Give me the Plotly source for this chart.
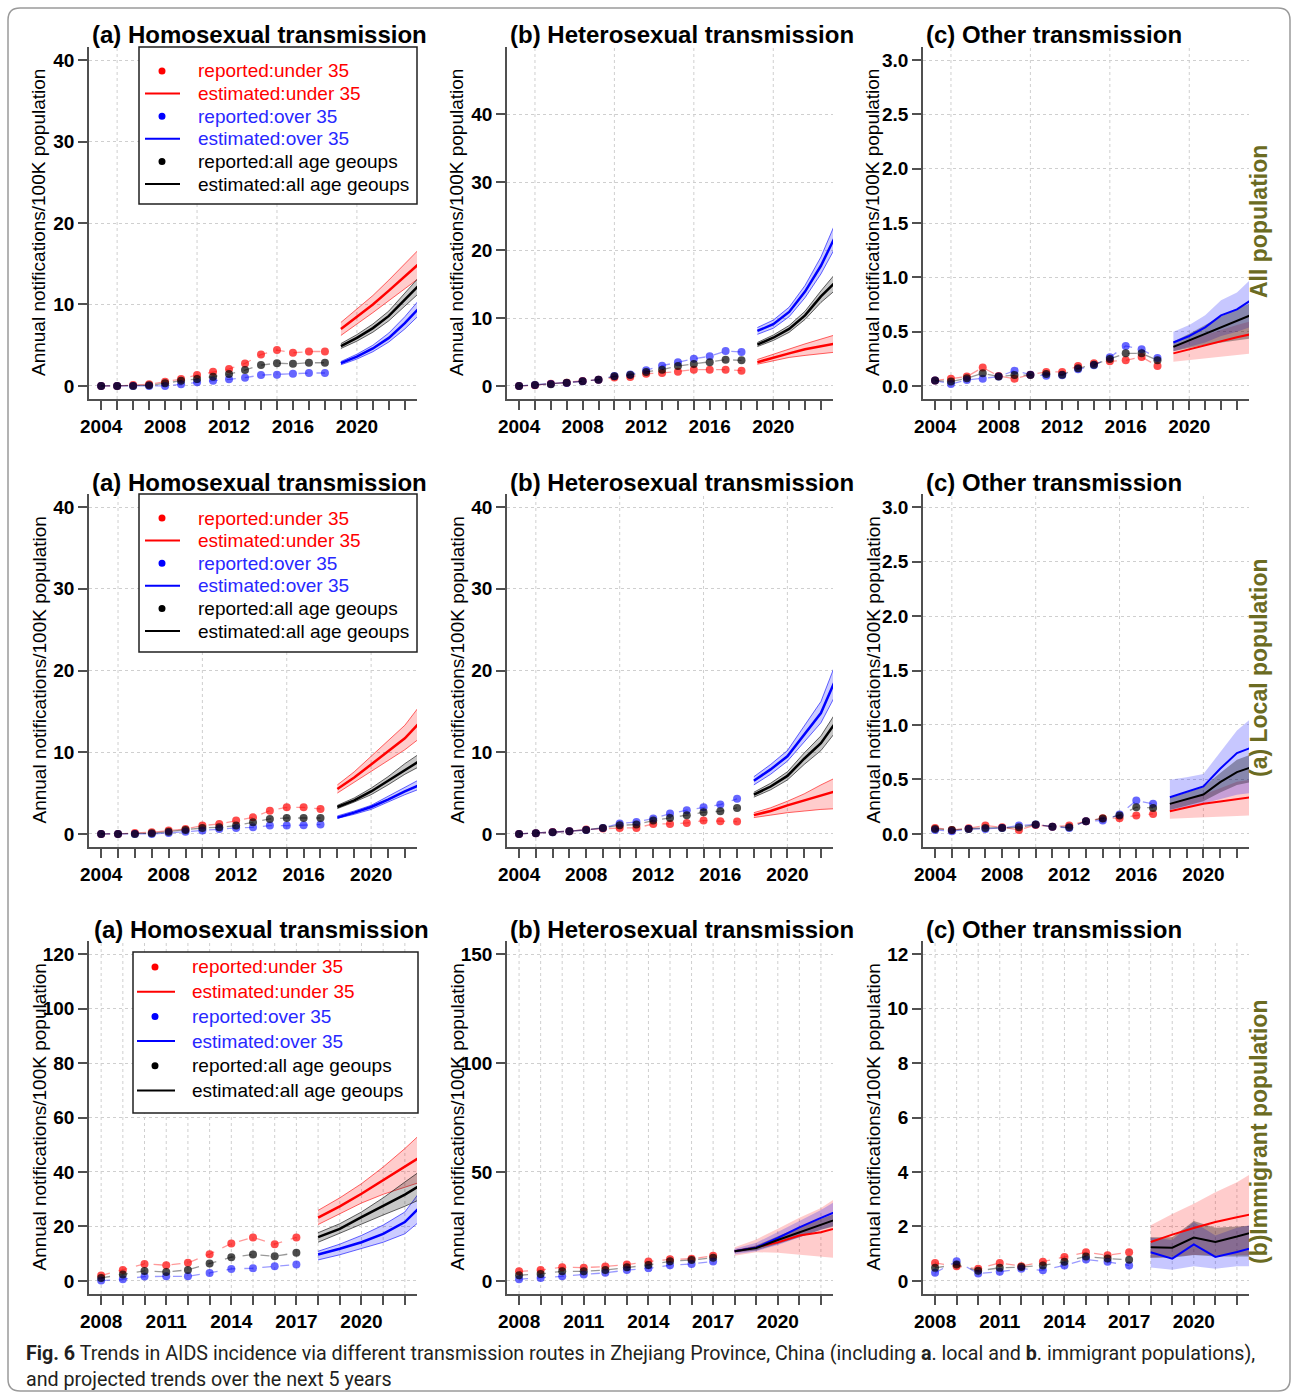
import plotly.graph_objects as go

W, H = 1295, 1398
FONT = "Liberation Sans, Arial, sans-serif"

# ---------------- years ----------------
years_all_rep = list(range(2004, 2019))
years_all_est = list(range(2019, 2025))
years_loc_rep = list(range(2004, 2018))
years_loc_est = list(range(2018, 2024))
years_imm_rep = list(range(2008, 2018))
years_imm_est = list(range(2018, 2024))

# ---------------- All population: homosexual ----------------
all_homo_rep_u35 = [0, 0, 0.12, 0.2, 0.53, 0.85, 1.34, 1.75, 2.07, 2.76, 3.86, 4.4, 4.07, 4.23, 4.23]
all_homo_rep_o35 = [0, 0, 0, 0, 0, 0.2, 0.45, 0.65, 0.81, 1.02, 1.34, 1.38, 1.5, 1.59, 1.59]
all_homo_rep_all = [0, 0, 0, 0.08, 0.33, 0.65, 0.85, 1.14, 1.46, 1.95, 2.56, 2.8, 2.72, 2.85, 2.85]
all_homo_est_u35 = [7.0, 8.5, 10.0, 11.7, 13.4, 15.2]
all_homo_est_u35_lo = [6.2, 7.6, 9.0, 10.4, 11.9, 13.4]
all_homo_est_u35_hi = [7.8, 9.4, 11.1, 13.0, 15.0, 17.0]
all_homo_est_o35 = [2.8, 3.6, 4.6, 5.9, 7.7, 9.8]
all_homo_est_o35_lo = [2.6, 3.3, 4.2, 5.4, 7.0, 8.9]
all_homo_est_o35_hi = [3.0, 3.9, 5.0, 6.5, 8.5, 10.8]
all_homo_est_all = [4.9, 5.9, 7.1, 8.6, 10.6, 12.6]
all_homo_est_all_lo = [4.6, 5.5, 6.6, 8.0, 9.8, 11.6]
all_homo_est_all_hi = [5.2, 6.3, 7.6, 9.2, 11.4, 13.6]

# ---------------- All population: heterosexual ----------------
all_hetero_rep_u35 = [0, 0.1, 0.34, 0.49, 0.74, 0.93, 1.23, 1.32, 1.81, 1.91, 2.1, 2.4, 2.4, 2.4, 2.25]
all_hetero_rep_o35 = [0, 0.15, 0.29, 0.44, 0.69, 0.93, 1.47, 1.67, 2.3, 2.99, 3.48, 4.02, 4.36, 5.15, 5.0]
all_hetero_rep_all = [0, 0.15, 0.25, 0.49, 0.69, 0.93, 1.42, 1.62, 2.06, 2.4, 2.94, 3.24, 3.48, 3.87, 3.77]
all_hetero_est_u35 = [3.5, 4.2, 4.8, 5.4, 5.9, 6.3]
all_hetero_est_u35_lo = [3.2, 3.7, 4.2, 4.5, 4.8, 5.0]
all_hetero_est_u35_hi = [3.9, 4.7, 5.5, 6.2, 6.9, 7.6]
all_hetero_est_o35 = [8.1, 9.1, 10.9, 13.9, 17.7, 22.5]
all_hetero_est_o35_lo = [7.6, 8.5, 10.2, 13.0, 16.5, 20.8]
all_hetero_est_o35_hi = [8.6, 9.7, 11.6, 14.8, 19.0, 24.5]
all_hetero_est_all = [6.1, 7.1, 8.4, 10.4, 13.2, 15.5]
all_hetero_est_all_lo = [5.8, 6.7, 7.9, 9.8, 12.3, 14.3]
all_hetero_est_all_hi = [6.4, 7.5, 8.9, 11.0, 14.0, 16.8]

# ---------------- All population: other ----------------
all_other_rep_u35 = [0.05, 0.067, 0.086, 0.17, 0.092, 0.067, 0.104, 0.129, 0.129, 0.184, 0.21, 0.227, 0.236, 0.267, 0.184]
all_other_rep_o35 = [0.05, 0.018, 0.055, 0.067, 0.086, 0.141, 0.104, 0.095, 0.098, 0.153, 0.19, 0.264, 0.368, 0.337, 0.258]
all_other_rep_all = [0.05, 0.04, 0.07, 0.117, 0.086, 0.1, 0.1, 0.11, 0.104, 0.163, 0.196, 0.248, 0.3, 0.3, 0.236]
all_other_est_u35 = [0.30, 0.337, 0.377, 0.408, 0.448, 0.48]
all_other_est_u35_lo = [0.224, 0.237, 0.25, 0.268, 0.285, 0.30]
all_other_est_u35_hi = [0.377, 0.425, 0.47, 0.515, 0.56, 0.60]
all_other_est_o35 = [0.40, 0.46, 0.54, 0.65, 0.705, 0.80]
all_other_est_o35_lo = [0.32, 0.36, 0.40, 0.46, 0.50, 0.55]
all_other_est_o35_hi = [0.50, 0.56, 0.65, 0.79, 0.86, 1.0]
all_other_est_all = [0.36, 0.42, 0.485, 0.546, 0.607, 0.66]
all_other_est_all_lo = [0.32, 0.35, 0.38, 0.40, 0.42, 0.44]
all_other_est_all_hi = [0.41, 0.48, 0.56, 0.64, 0.71, 0.77]

# ---------------- Local population: homosexual ----------------
loc_homo_rep_u35 = [0, 0, 0.12, 0.2, 0.41, 0.61, 1.02, 1.22, 1.63, 2.03, 2.85, 3.25, 3.25, 3.05]
loc_homo_rep_o35 = [0, 0, 0, 0, 0.12, 0.28, 0.41, 0.61, 0.73, 0.81, 1.02, 1.02, 1.06, 1.14]
loc_homo_rep_all = [0, 0, 0, 0.08, 0.28, 0.49, 0.73, 0.81, 1.02, 1.42, 1.83, 1.95, 1.95, 1.95]
loc_homo_est_u35 = [5.5, 6.9, 8.5, 10.1, 11.7, 13.9]
loc_homo_est_u35_lo = [5.0, 6.3, 7.6, 9.0, 10.3, 11.9]
loc_homo_est_u35_hi = [6.0, 7.6, 9.5, 11.4, 13.3, 16.0]
loc_homo_est_o35 = [2.0, 2.6, 3.3, 4.2, 5.2, 6.1]
loc_homo_est_o35_lo = [1.9, 2.4, 3.0, 3.9, 4.8, 5.6]
loc_homo_est_o35_hi = [2.2, 2.8, 3.5, 4.6, 5.7, 6.8]
loc_homo_est_all = [3.3, 4.1, 5.2, 6.5, 7.9, 9.1]
loc_homo_est_all_lo = [3.1, 3.9, 4.8, 6.0, 7.3, 8.4]
loc_homo_est_all_hi = [3.5, 4.4, 5.6, 7.0, 8.6, 10.0]

# ---------------- Local population: heterosexual ----------------
loc_hetero_rep_u35 = [0, 0.08, 0.24, 0.33, 0.53, 0.65, 0.73, 0.73, 1.22, 1.22, 1.35, 1.63, 1.55, 1.51]
loc_hetero_rep_o35 = [0, 0.08, 0.2, 0.33, 0.49, 0.73, 1.27, 1.47, 1.88, 2.49, 2.9, 3.27, 3.59, 4.29]
loc_hetero_rep_all = [0, 0.08, 0.2, 0.33, 0.49, 0.73, 1.06, 1.14, 1.63, 1.96, 2.29, 2.65, 2.78, 3.18]
loc_hetero_est_u35 = [2.3, 2.8, 3.5, 4.1, 4.7, 5.3]
loc_hetero_est_u35_lo = [2.0, 2.3, 2.6, 2.8, 3.0, 3.1]
loc_hetero_est_u35_hi = [2.6, 3.2, 4.0, 4.9, 6.0, 7.0]
loc_hetero_est_o35 = [6.5, 7.9, 9.5, 12.2, 14.8, 19.5]
loc_hetero_est_o35_lo = [6.0, 7.3, 8.9, 11.3, 13.6, 17.5]
loc_hetero_est_o35_hi = [7.0, 8.5, 10.2, 13.2, 16.2, 21.5]
loc_hetero_est_all = [4.8, 5.8, 7.1, 9.2, 11.1, 14.0]
loc_hetero_est_all_lo = [4.5, 5.4, 6.6, 8.5, 10.2, 12.8]
loc_hetero_est_all_hi = [5.1, 6.2, 7.6, 9.9, 12.0, 15.2]

# ---------------- Local population: other ----------------
loc_other_rep_u35 = [0.055, 0.037, 0.052, 0.077, 0.061, 0.037, 0.083, 0.067, 0.077, 0.117, 0.145, 0.145, 0.169, 0.184]
loc_other_rep_o35 = [0.037, 0.025, 0.046, 0.046, 0.055, 0.077, 0.086, 0.067, 0.055, 0.117, 0.123, 0.178, 0.307, 0.276]
loc_other_rep_all = [0.046, 0.037, 0.046, 0.055, 0.055, 0.061, 0.086, 0.067, 0.061, 0.117, 0.141, 0.169, 0.245, 0.239]
loc_other_est_u35 = [0.209, 0.245, 0.276, 0.297, 0.322, 0.34]
loc_other_est_u35_lo = [0.14, 0.145, 0.15, 0.16, 0.165, 0.17]
loc_other_est_u35_hi = [0.28, 0.32, 0.36, 0.42, 0.48, 0.50]
loc_other_est_o35 = [0.337, 0.383, 0.436, 0.598, 0.742, 0.80]
loc_other_est_o35_lo = [0.22, 0.25, 0.28, 0.32, 0.36, 0.38]
loc_other_est_o35_hi = [0.497, 0.52, 0.55, 0.75, 0.95, 1.08]
loc_other_est_all = [0.276, 0.322, 0.362, 0.475, 0.567, 0.62]
loc_other_est_all_lo = [0.22, 0.26, 0.30, 0.38, 0.45, 0.48]
loc_other_est_all_hi = [0.33, 0.38, 0.43, 0.56, 0.68, 0.74]

# ---------------- Immigrant population: homosexual ----------------
imm_homo_rep_u35 = [1.96, 4.05, 6.26, 5.77, 6.63, 9.82, 13.74, 15.95, 13.5, 15.95]
imm_homo_rep_o35 = [0.12, 0.61, 1.6, 1.72, 1.72, 2.94, 4.42, 4.66, 5.4, 6.0]
imm_homo_rep_all = [1.1, 2.33, 3.68, 3.31, 4.05, 6.38, 8.71, 9.69, 9.08, 10.3]
imm_homo_est_u35 = [23.2, 27.4, 32.0, 36.9, 41.8, 47.0]
imm_homo_est_u35_lo = [20.7, 24.5, 28.6, 31.8, 34.5, 37.0]
imm_homo_est_u35_hi = [25.9, 30.5, 35.7, 41.8, 48.6, 56.0]
imm_homo_est_o35 = [9.7, 11.8, 14.2, 17.3, 21.6, 29.5]
imm_homo_est_o35_lo = [7.7, 9.6, 11.8, 14.2, 17.3, 24.0]
imm_homo_est_o35_hi = [10.9, 13.5, 16.7, 20.5, 25.3, 36.0]
imm_homo_est_all = [16.1, 19.1, 23.4, 27.4, 31.7, 36.5]
imm_homo_est_all_lo = [14.2, 17.5, 21.0, 24.2, 27.4, 31.0]
imm_homo_est_all_hi = [17.7, 21.0, 25.3, 30.5, 36.3, 42.0]

# ---------------- Immigrant population: heterosexual ----------------
imm_hetero_rep_u35 = [4.4, 5.0, 6.3, 6.1, 6.6, 7.5, 8.9, 9.9, 10.2, 11.5]
imm_hetero_rep_o35 = [0.8, 1.4, 2.1, 3.0, 3.7, 5.0, 5.8, 7.2, 7.8, 8.9]
imm_hetero_rep_all = [2.6, 3.2, 4.4, 4.4, 5.0, 6.3, 7.3, 9.0, 9.6, 10.6]
imm_hetero_est_u35 = [13.6, 15.4, 17.7, 20.8, 22.3, 25.0]
imm_hetero_est_u35_lo = [11.6, 13.2, 12.9, 12.2, 11.2, 10.3]
imm_hetero_est_u35_hi = [15.4, 19.0, 24.0, 29.0, 33.5, 40.0]
imm_hetero_est_o35 = [13.6, 15.4, 19.7, 24.6, 28.9, 33.0]
imm_hetero_est_o35_lo = [12.2, 13.6, 16.5, 20.0, 23.5, 26.5]
imm_hetero_est_o35_hi = [14.8, 17.5, 22.5, 27.5, 32.5, 38.5]
imm_hetero_est_all = [13.6, 15.1, 18.8, 22.3, 26.1, 29.3]
imm_hetero_est_all_lo = [13.0, 14.0, 17.0, 20.0, 23.5, 26.0]
imm_hetero_est_all_hi = [14.2, 16.3, 20.5, 24.5, 28.5, 32.0]

# ---------------- Immigrant population: other ----------------
imm_other_rep_u35 = [0.66, 0.54, 0.45, 0.66, 0.54, 0.7, 0.88, 1.05, 0.94, 1.05]
imm_other_rep_o35 = [0.3, 0.72, 0.27, 0.34, 0.45, 0.39, 0.57, 0.79, 0.7, 0.57]
imm_other_rep_all = [0.48, 0.6, 0.37, 0.48, 0.51, 0.57, 0.7, 0.9, 0.82, 0.78]
imm_other_est_u35 = [1.43, 1.7, 1.94, 2.16, 2.34, 2.5]
imm_other_est_u35_lo = [0.85, 0.9, 0.95, 0.95, 0.95, 0.95]
imm_other_est_u35_hi = [2.04, 2.46, 2.83, 3.26, 3.62, 4.1]
imm_other_est_o35 = [1.05, 0.82, 1.34, 0.88, 1.06, 1.28]
imm_other_est_o35_lo = [0.49, 0.41, 0.54, 0.45, 0.54, 0.54]
imm_other_est_o35_hi = [1.59, 1.5, 2.16, 1.67, 1.95, 2.1]
imm_other_est_all = [1.24, 1.22, 1.59, 1.43, 1.63, 1.85]
imm_other_est_all_lo = [0.85, 0.85, 0.95, 0.9, 0.9, 0.9]
imm_other_est_all_hi = [1.6, 1.6, 2.2, 1.95, 2.0, 2.05]

# ---------------- ticks / labels ----------------
xlabels_rows_ab = [2004, 2008, 2012, 2016, 2020]
xlabels_row_c = [2008, 2011, 2014, 2017, 2020]
xgrid_rows_ab = [2005, 2010, 2015, 2020]
yticks_homo = [0, 10, 20, 30, 40]
yticks_other = [0, 0.5, 1.0, 1.5, 2.0, 2.5, 3.0]
yticktext_other = ["0.0", "0.5", "1.0", "1.5", "2.0", "2.5", "3.0"]
yticks_imm_homo = [0, 20, 40, 60, 80, 100, 120]
yticks_imm_hetero = [0, 50, 100, 150]
yticks_imm_other = [0, 2, 4, 6, 8, 10, 12]

panel_titles = ["(a) Homosexual transmission", "(b) Heterosexual transmission", "(c) Other transmission"]
row_labels = ["All population", "(a) Local population", "(b)Immigrant population"]
ytitle = "Annual notifications/100K population"
legend_labels = ["reported:under 35", "estimated:under 35", "reported:over 35",
                 "estimated:over 35", "reported:all age geoups", "estimated:all age geoups"]

# ---------------- layout geometry (pixels) ----------------
cols_px = [(89, 417), (507, 833), (923, 1249)]
rows_px = [(47, 399), (494, 847), (941, 1294)]


def px(x):
    return x / W


def py(y):
    return 1 - y / H


RGB = {"u35": (255, 0, 0), "o35": (0, 0, 255), "all": (0, 0, 0)}
SOLID = {"u35": "#FF0000", "o35": "#0000FF", "all": "#000000"}

panels = [
    dict(r=0, c=0, ry=years_all_rep, ey=years_all_est, xr=(2004, 2023), ymax=40, yt=yticks_homo, ytt=None, style="band",
         rep=dict(u35=all_homo_rep_u35, o35=all_homo_rep_o35, all=all_homo_rep_all),
         est=dict(u35=(all_homo_est_u35, all_homo_est_u35_lo, all_homo_est_u35_hi),
                  o35=(all_homo_est_o35, all_homo_est_o35_lo, all_homo_est_o35_hi),
                  all=(all_homo_est_all, all_homo_est_all_lo, all_homo_est_all_hi))),
    dict(r=0, c=1, ry=years_all_rep, ey=years_all_est, xr=(2004, 2023), ymax=48, yt=yticks_homo, ytt=None, style="band",
         rep=dict(u35=all_hetero_rep_u35, o35=all_hetero_rep_o35, all=all_hetero_rep_all),
         est=dict(u35=(all_hetero_est_u35, all_hetero_est_u35_lo, all_hetero_est_u35_hi),
                  o35=(all_hetero_est_o35, all_hetero_est_o35_lo, all_hetero_est_o35_hi),
                  all=(all_hetero_est_all, all_hetero_est_all_lo, all_hetero_est_all_hi))),
    dict(r=0, c=2, ry=years_all_rep, ey=years_all_est, xr=(2004, 2023), ymax=3, yt=yticks_other, ytt=yticktext_other, style="soft",
         rep=dict(u35=all_other_rep_u35, o35=all_other_rep_o35, all=all_other_rep_all),
         est=dict(u35=(all_other_est_u35, all_other_est_u35_lo, all_other_est_u35_hi),
                  o35=(all_other_est_o35, all_other_est_o35_lo, all_other_est_o35_hi),
                  all=(all_other_est_all, all_other_est_all_lo, all_other_est_all_hi))),
    dict(r=1, c=0, ry=years_loc_rep, ey=years_loc_est, xr=(2004, 2022), ymax=40, yt=yticks_homo, ytt=None, style="band",
         rep=dict(u35=loc_homo_rep_u35, o35=loc_homo_rep_o35, all=loc_homo_rep_all),
         est=dict(u35=(loc_homo_est_u35, loc_homo_est_u35_lo, loc_homo_est_u35_hi),
                  o35=(loc_homo_est_o35, loc_homo_est_o35_lo, loc_homo_est_o35_hi),
                  all=(loc_homo_est_all, loc_homo_est_all_lo, loc_homo_est_all_hi))),
    dict(r=1, c=1, ry=years_loc_rep, ey=years_loc_est, xr=(2004, 2022), ymax=40, yt=yticks_homo, ytt=None, style="band",
         rep=dict(u35=loc_hetero_rep_u35, o35=loc_hetero_rep_o35, all=loc_hetero_rep_all),
         est=dict(u35=(loc_hetero_est_u35, loc_hetero_est_u35_lo, loc_hetero_est_u35_hi),
                  o35=(loc_hetero_est_o35, loc_hetero_est_o35_lo, loc_hetero_est_o35_hi),
                  all=(loc_hetero_est_all, loc_hetero_est_all_lo, loc_hetero_est_all_hi))),
    dict(r=1, c=2, ry=years_loc_rep, ey=years_loc_est, xr=(2004, 2022), ymax=3, yt=yticks_other, ytt=yticktext_other, style="soft",
         rep=dict(u35=loc_other_rep_u35, o35=loc_other_rep_o35, all=loc_other_rep_all),
         est=dict(u35=(loc_other_est_u35, loc_other_est_u35_lo, loc_other_est_u35_hi),
                  o35=(loc_other_est_o35, loc_other_est_o35_lo, loc_other_est_o35_hi),
                  all=(loc_other_est_all, loc_other_est_all_lo, loc_other_est_all_hi))),
    dict(r=2, c=0, ry=years_imm_rep, ey=years_imm_est, xr=(2008, 2022), ymax=120, yt=yticks_imm_homo, ytt=None, style="band",
         rep=dict(u35=imm_homo_rep_u35, o35=imm_homo_rep_o35, all=imm_homo_rep_all),
         est=dict(u35=(imm_homo_est_u35, imm_homo_est_u35_lo, imm_homo_est_u35_hi),
                  o35=(imm_homo_est_o35, imm_homo_est_o35_lo, imm_homo_est_o35_hi),
                  all=(imm_homo_est_all, imm_homo_est_all_lo, imm_homo_est_all_hi))),
    dict(r=2, c=1, ry=years_imm_rep, ey=years_imm_est, xr=(2008, 2022), ymax=150, yt=yticks_imm_hetero, ytt=None, style="soft",
         rep=dict(u35=imm_hetero_rep_u35, o35=imm_hetero_rep_o35, all=imm_hetero_rep_all),
         est=dict(u35=(imm_hetero_est_u35, imm_hetero_est_u35_lo, imm_hetero_est_u35_hi),
                  o35=(imm_hetero_est_o35, imm_hetero_est_o35_lo, imm_hetero_est_o35_hi),
                  all=(imm_hetero_est_all, imm_hetero_est_all_lo, imm_hetero_est_all_hi))),
    dict(r=2, c=2, ry=years_imm_rep, ey=years_imm_est, xr=(2008, 2022), ymax=12, yt=yticks_imm_other, ytt=None, style="soft",
         rep=dict(u35=imm_other_rep_u35, o35=imm_other_rep_o35, all=imm_other_rep_all),
         est=dict(u35=(imm_other_est_u35, imm_other_est_u35_lo, imm_other_est_u35_hi),
                  o35=(imm_other_est_o35, imm_other_est_o35_lo, imm_other_est_o35_hi),
                  all=(imm_other_est_all, imm_other_est_all_lo, imm_other_est_all_hi))),
]

fig = go.Figure()
shapes = []
annotations = []
AXC = "#505050"
GRIDC = "#cfcfcf"

for i, p in enumerate(panels):
    n = "" if i == 0 else str(i + 1)
    xa, ya = "x" + n, "y" + n
    x0p, x1p = cols_px[p["c"]]
    y0p, y1p = rows_px[p["r"]]
    xlo, xhi = p["xr"]
    pad = 0.04 * (xhi - xlo)
    years_all = list(range(xlo, xhi + 1))
    labset = xlabels_row_c if p["r"] == 2 else xlabels_rows_ab
    ticktext = [str(y) if y in labset else "" for y in years_all]
    ymax = p["ymax"]

    fig.layout["xaxis" + n] = dict(
        domain=[px(x0p), px(x1p)], anchor=ya, range=[xlo - pad, xhi + pad], automargin=False,
        tickmode="array", tickvals=years_all, ticktext=ticktext,
        ticks="outside", ticklen=9, tickwidth=1.5, tickcolor=AXC,
        showline=True, linecolor=AXC, linewidth=1.5, showgrid=False, zeroline=False,
        tickfont=dict(family=FONT, size=19, color="black", weight="bold"), fixedrange=True)
    fig.layout["yaxis" + n] = dict(
        domain=[py(y1p), py(y0p)], anchor=xa, range=[-0.04 * ymax, 1.04 * ymax], automargin=False,
        tickmode="array", tickvals=p["yt"], ticktext=p["ytt"] if p["ytt"] else [str(v) for v in p["yt"]],
        ticks="outside", ticklen=9, tickwidth=1.5, tickcolor=AXC,
        showline=True, linecolor=AXC, linewidth=1.5, showgrid=True, gridcolor=GRIDC,
        griddash="dot", gridwidth=1, zeroline=False,
        tickfont=dict(family=FONT, size=19, color="black", weight="bold"), fixedrange=True)

    # vertical grid lines
    xgrid = years_all if p["r"] == 2 else xgrid_rows_ab
    for gx in xgrid:
        shapes.append(dict(type="line", xref=xa, yref=ya + " domain", x0=gx, x1=gx, y0=0, y1=1,
                           line=dict(color=GRIDC, width=1, dash="dot"), layer="below"))

    # reported series
    for k in ["u35", "o35", "all"]:
        r_, g_, b_ = RGB[k]
        malpha = {"u35": 0.7, "o35": 0.6, "all": 0.7}[k]
        fig.add_trace(go.Scatter(
            x=p["ry"], y=p["rep"][k], xaxis=xa, yaxis=ya, mode="lines+markers",
            line=dict(color=f"rgba({r_},{g_},{b_},0.4)", width=1.3, dash="dash"),
            marker=dict(color=f"rgba({r_},{g_},{b_},{malpha})", size=8),
            showlegend=False, hoverinfo="skip"))

    # estimated bands
    for k in ["u35", "o35", "all"]:
        r_, g_, b_ = RGB[k]
        mid, lo, hi = p["est"][k]
        ey = p["ey"]
        if p["style"] == "band":
            fa = 0.2 if k != "all" else 0.22
            fig.add_trace(go.Scatter(
                x=ey + ey[::-1], y=list(hi) + list(lo)[::-1], xaxis=xa, yaxis=ya, mode="lines",
                fill="toself", fillcolor=f"rgba({r_},{g_},{b_},{fa})",
                line=dict(color=f"rgba({r_},{g_},{b_},0.6)", width=1),
                showlegend=False, hoverinfo="skip"))
        else:
            fa = {"u35": 0.2, "o35": 0.22, "all": 0.32}[k]
            fig.add_trace(go.Scatter(
                x=ey + ey[::-1], y=list(hi) + list(lo)[::-1], xaxis=xa, yaxis=ya, mode="lines",
                fill="toself", fillcolor=f"rgba({r_},{g_},{b_},{fa})",
                line=dict(color="rgba(0,0,0,0)", width=0),
                showlegend=False, hoverinfo="skip"))
    for k in ["u35", "o35", "all"]:
        mid, lo, hi = p["est"][k]
        fig.add_trace(go.Scatter(
            x=p["ey"], y=mid, xaxis=xa, yaxis=ya, mode="lines",
            line=dict(color=SOLID[k], width=2.5 if p["style"] == "band" else 2),
            showlegend=False, hoverinfo="skip"))

    # panel title
    annotations.append(dict(text=panel_titles[p["c"]], xref="paper", yref="paper",
                            x=px(x0p + (3 if p["r"] == 2 and p["c"] == 0 else 1)), y=py(y0p - 12),
                            xanchor="left", yanchor="middle", showarrow=False,
                            font=dict(family=FONT, size=24, color="black", weight="bold")))
    # y-axis title
    annotations.append(dict(text=ytitle, xref="paper", yref="paper",
                            x=px(x0p - 50), y=py((y0p + y1p) / 2), textangle=-90,
                            xanchor="center", yanchor="middle", showarrow=False,
                            font=dict(family=FONT, size=19, color="black")))

# row labels on the right
for r, lab in enumerate(row_labels):
    cy = [222, 668, 1132][r]
    annotations.append(dict(text=lab, xref="paper", yref="paper", x=px(1259), y=py(cy),
                            textangle=-90, xanchor="center", yanchor="middle", showarrow=False,
                            font=dict(family=FONT, size=23, color="#6b6b22", weight="bold")))

# legends (first column of each row)
legend_geo = [
    dict(box=(139, 47, 417, 204), dot=162, l0=145, l1=180, tx=196, ry0=71, step=22.6),
    dict(box=(139, 494, 417, 652), dot=162, l0=145, l1=180, tx=196, ry0=518, step=22.6),
    dict(box=(133, 952, 418, 1113), dot=155, l0=137, l1=175, tx=190, ry0=967, step=24.7),
]
leg_keys = ["u35", "u35", "o35", "o35", "all", "all"]
leg_text_col = {"u35": "#FF0000", "o35": "#2828FF", "all": "#000000"}
for g in legend_geo:
    bx0, by0, bx1, by1 = g["box"]
    shapes.append(dict(type="rect", xref="paper", yref="paper", x0=px(bx0), x1=px(bx1),
                       y0=py(by1), y1=py(by0), line=dict(color="#202020", width=1.5),
                       fillcolor="white", layer="above"))
    for j, (lab, k) in enumerate(zip(legend_labels, leg_keys)):
        yy = g["ry0"] + j * g["step"]
        if j % 2 == 0:
            shapes.append(dict(type="circle", xref="paper", yref="paper",
                               x0=px(g["dot"] - 3.5), x1=px(g["dot"] + 3.5),
                               y0=py(yy + 3.5), y1=py(yy - 3.5),
                               fillcolor=SOLID[k], line=dict(width=0), layer="above"))
        else:
            shapes.append(dict(type="line", xref="paper", yref="paper",
                               x0=px(g["l0"]), x1=px(g["l1"]), y0=py(yy), y1=py(yy),
                               line=dict(color=SOLID[k], width=2), layer="above"))
        annotations.append(dict(text=lab, xref="paper", yref="paper", x=px(g["tx"]), y=py(yy),
                                xanchor="left", yanchor="middle", showarrow=False,
                                font=dict(family=FONT, size=19, color=leg_text_col[k])))

# caption
annotations.append(dict(
    text="<b>Fig. 6</b> Trends in AIDS incidence via different transmission routes in Zhejiang Province, China "
         "(including <b>a</b>. local and <b>b</b>. immigrant populations),",
    xref="paper", yref="paper", x=px(24), y=py(1353), xanchor="left", yanchor="middle",
    showarrow=False, font=dict(family="Roboto, sans-serif", size=19.7, color="#231f20")))
annotations.append(dict(
    text="and projected trends over the next 5 years",
    xref="paper", yref="paper", x=px(24), y=py(1379), xanchor="left", yanchor="middle",
    showarrow=False, font=dict(family="Roboto, sans-serif", size=19.7, color="#231f20")))

# rounded frame
fx0, fy0, fx1, fy1, rr = 8, 8, 1290, 1391, 12
path = (f"M {px(fx0 + rr)} {py(fy0)} L {px(fx1 - rr)} {py(fy0)} Q {px(fx1)} {py(fy0)} {px(fx1)} {py(fy0 + rr)} "
        f"L {px(fx1)} {py(fy1 - rr)} Q {px(fx1)} {py(fy1)} {px(fx1 - rr)} {py(fy1)} "
        f"L {px(fx0 + rr)} {py(fy1)} Q {px(fx0)} {py(fy1)} {px(fx0)} {py(fy1 - rr)} "
        f"L {px(fx0)} {py(fy0 + rr)} Q {px(fx0)} {py(fy0)} {px(fx0 + rr)} {py(fy0)} Z")
shapes.append(dict(type="path", xref="paper", yref="paper", path=path,
                   line=dict(color="#9a9a9a", width=1.5), layer="below"))

fig.update_layout(width=W, height=H, autosize=False,
                  margin=dict(l=0, r=0, t=0, b=0, pad=0, autoexpand=False),
                  paper_bgcolor="white", plot_bgcolor="white", showlegend=False,
                  shapes=shapes, annotations=annotations)

fig.write_html("out.html", config={"displayModeBar": False},
               post_script="document.body.style.margin='0';document.body.style.padding='0';"
                           "document.documentElement.style.overflow='hidden';"
                           "document.body.style.overflow='hidden';")
